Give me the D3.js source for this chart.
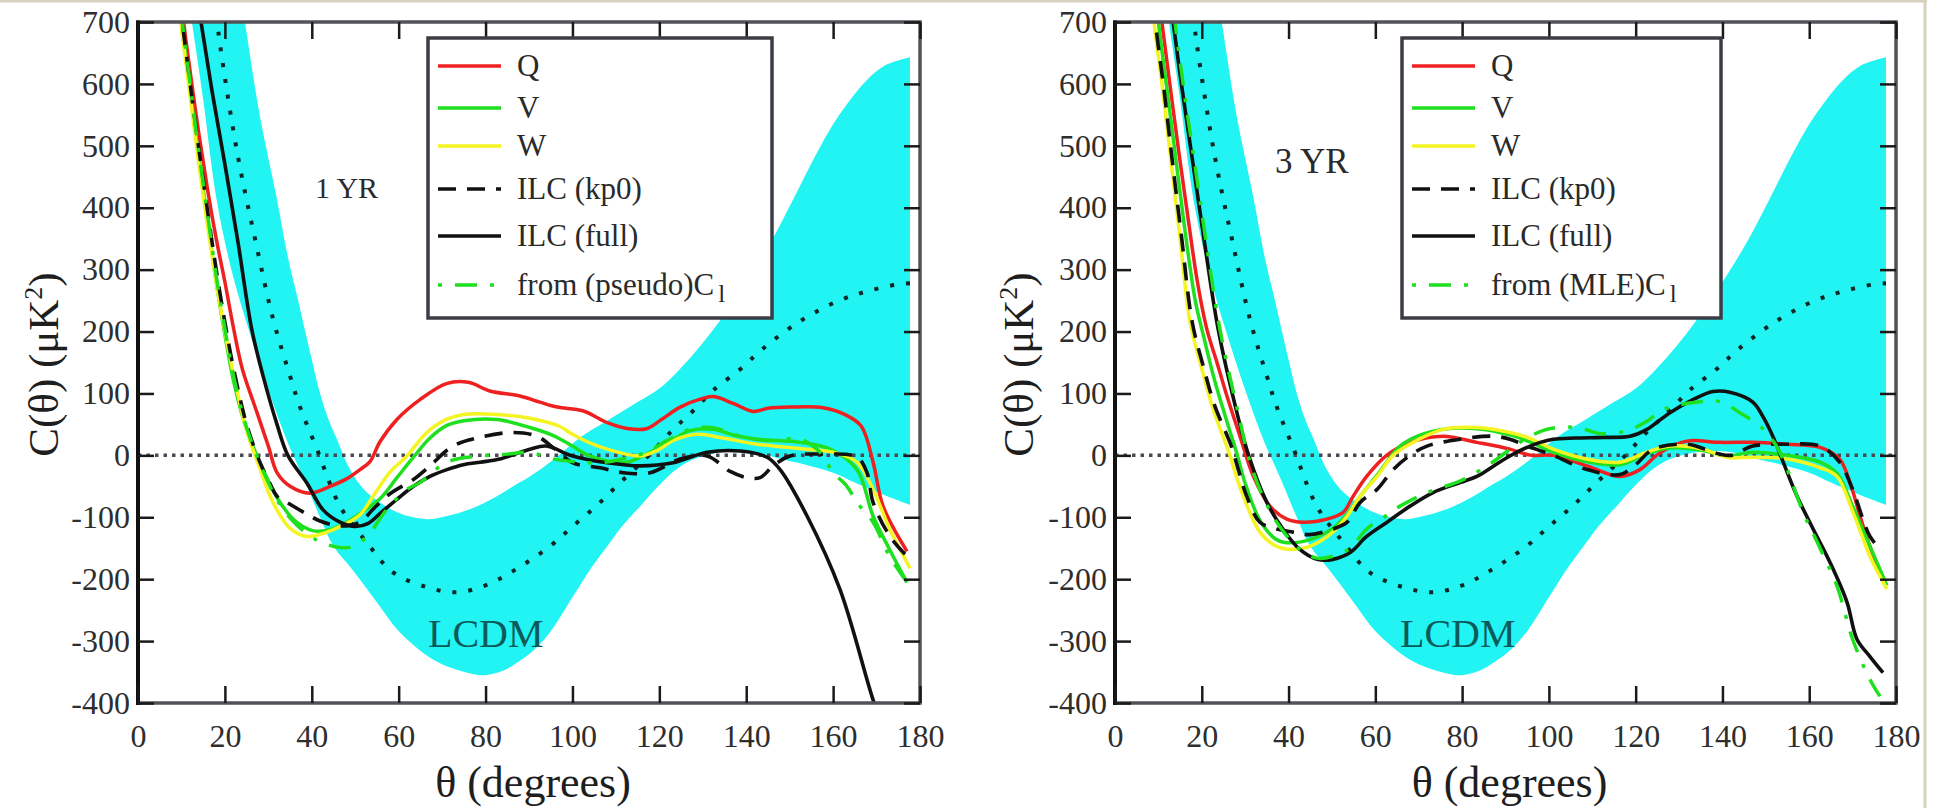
<!DOCTYPE html>
<html>
<head>
<meta charset="utf-8">
<script src="https://cdn.jsdelivr.net/npm/d3@7"></script>
<style>
  body { margin: 0; background: #fff; }
  svg { display: block; }
  svg text { font-family: "Liberation Serif", "Times New Roman", serif !important; }
</style>
</head>
<body>
<svg id="chart" width="1938" height="808"></svg>
<script>
// Axis ticks
const thetaTicks = [0, 20, 40, 60, 80, 100, 120, 140, 160, 180];
const cTicks = [-400, -300, -200, -100, 0, 100, 200, 300, 400, 500, 600, 700];

// LCDM expectation: mean curve and 1-sigma band edges, [theta (deg), C (muK^2)]
const lcdmMean = [[10,1250],[14,960],[18.2,700],[19.6,629],[23,483],[27.3,338],[31.1,220],[35,128],[37.3,78],[41.2,10],[46.5,-82],[52.7,-141],[58.7,-189],[66.5,-213],[73.4,-221],[80,-210],[86.3,-187],[94.8,-147],[100,-115],[105.6,-81],[111,-44],[117.6,0],[123.2,42],[127.8,72],[132.4,105],[138.6,139],[143.6,171],[152,215],[161,249],[167.8,265],[174.7,276],[177.7,278]];
const lcdmLower = [[5,1150],[9,860],[12.4,700],[15,575],[18.1,413],[21.5,300],[25.5,203],[30.5,96],[34.5,20],[38,-35],[41.9,-100],[45,-147],[49.5,-186],[55.7,-244],[59.6,-281],[64,-310],[68,-330],[72,-343],[77,-353],[80,-355],[84,-348],[87.2,-335],[91,-315],[94.8,-286],[100.1,-228],[104,-185],[108,-147],[111,-118],[115.6,-82],[120,-48],[124,-22],[128,-6],[133,4],[138,7],[143,4],[148,-6],[153,-14],[160,-28],[165,-44],[170,-59],[174,-70],[177.7,-80]];
const lcdmUpper = [[5,1700],[15,1150],[20,900],[24.6,700],[28,550],[32,413],[34.5,320],[36.8,252],[38.4,203],[40,155],[41.9,100],[44,55],[45.8,26],[48.8,-23],[52,-55],[55.7,-76],[59.6,-92],[63.3,-100],[67.2,-103],[71.1,-98],[76.4,-87],[82.6,-66],[87,-47],[90.2,-34],[96,-5],[102,30],[108,56],[115,86],[120,108],[124.8,140],[132.4,203],[140,280],[146,349],[152,430],[156,485],[160,535],[164,575],[168,608],[172,630],[177.7,643]];

// 1-year maps
const q1yr = [[8,860],[10.5,700],[12,620],[14,520],[16,430],[18,350],[20,280],[22,205],[24,140],[27.4,69],[30,15],[32,-28],[35,-50],[39.6,-61],[44.2,-50],[48,-38],[51.1,-23],[53.4,-10],[55.7,22],[59.6,58],[64.9,90],[71,116],[76,118],[81,104],[87.9,96],[92.5,86],[96.5,78],[102.4,72],[108,53],[113,43],[117,43],[120.5,58],[124.8,78],[130,92],[132.5,95],[137,84],[141.6,71],[145,76],[150,78],[157.7,77],[163,65],[166.5,47],[169.2,-11],[171.5,-82],[177,-155]];
const v1yr = [[8,820],[10,700],[12,590],[14,480],[16,380],[18,280],[20,195],[22,120],[25,42],[28.8,-23],[32.7,-76],[36.5,-108],[40.4,-122],[44.2,-120],[48,-108],[51.5,-92],[55.7,-70],[59.6,-36],[63.4,-3],[67.2,28],[71,48],[75,56],[82.6,58],[90.2,45],[95.6,32],[100,15],[104,-1],[111.7,-12],[117.9,5],[123,25],[127,40],[132.4,42],[137,33],[142.5,26],[152.4,21],[159.3,10],[165.5,-23],[169.2,-98],[173,-152],[177,-205]];
const w1yr = [[8,800],[10,690],[12,580],[14,470],[16,370],[18,280],[20,200],[22,130],[25,40],[28,-20],[31,-75],[35,-118],[38.9,-131],[42.6,-126],[46.5,-115],[51.1,-96],[54.1,-66],[58,-27],[61.9,-1],[66.5,37],[71,58],[75,66],[82.6,66],[90.2,60],[97,47],[100,34],[104,20],[108,10],[115.6,-1],[119.5,8],[123.2,24],[128.7,34],[134.7,28],[142.5,18],[154,10],[160,5],[165.5,-11],[169.2,-55],[173.1,-120],[177.7,-182]];
const kp01yr = [[8,830],[10,710],[12,600],[14,495],[16,395],[18,300],[20,215],[22,140],[25,50],[28,-10],[30,-40],[32,-66],[34.3,-76],[38.9,-95],[41.9,-106],[46.5,-114],[51.1,-108],[54.1,-87],[58,-62],[63.4,-39],[67.2,-17],[72.5,15],[78.7,29],[86.3,37],[91.8,31],[96,10],[100.1,-12],[106.4,-20],[111.7,-28],[117.9,-28],[124.8,-6],[131,-1],[136.3,-26],[140.2,-36],[143.2,-36],[146.2,-17],[150.1,-1],[157.7,2],[165.5,-3],[167.8,-28],[169.2,-76],[173.1,-131],[177,-163]];
const full1yr = [[12,800],[14.5,700],[17,590],[20,470],[23,345],[26.2,203],[28.8,128],[32,50],[34.5,0],[38.9,-45],[42.6,-88],[46.5,-108],[50,-115],[53,-110],[56,-92],[59.6,-71],[63.4,-50],[67.2,-34],[71.1,-23],[74.9,-15],[78.8,-11],[83.3,-6],[90.2,10],[94,15],[100,-1],[108,-12],[115.6,-17],[123.2,-12],[131,5],[138.6,7],[144.8,-3],[147.8,-23],[154,-98],[161.6,-217],[169.2,-395],[172,-450]];
const cl1yr = [[8,830],[10,710],[12,600],[14,490],[16,390],[18,290],[20,205],[22,128],[25,45],[28.8,-25],[32.7,-80],[36.5,-112],[40,-132],[42,-140],[46.5,-149],[49.5,-147],[52.7,-131],[57.3,-87],[61.9,-55],[64.9,-44],[71.1,-11],[78.7,-1],[85,2],[90,5],[95,-5],[100,-10],[106,-12],[112,-5],[117,5],[122,25],[127,42],[132,45],[138.6,31],[145,24],[152.4,26],[157,5],[160,-27],[163.2,-50],[165.5,-76],[169.2,-108],[173,-163],[177,-205]];

// 3-year maps
const q3yr = [[8,850],[10.8,700],[13,580],[15,475],[17,375],[19,280],[21.2,203],[23.5,150],[25.8,96],[28.8,31],[31.9,-34],[35.7,-82],[39.6,-103],[43.4,-108],[48.8,-103],[52.6,-92],[54.9,-66],[58,-34],[62.6,0],[68,21],[75.6,31],[83.4,21],[91,10],[96,0],[101,0],[108.8,-17],[116.4,-34],[121,-23],[125.6,4],[131.8,23],[139.4,21],[147,21],[154.9,18],[162.5,13],[167,-6],[169.4,-44],[171.7,-98],[174,-147],[177,-200]];
const v3yr = [[8,840],[10,700],[12,590],[14,480],[16,370],[18.5,250],[20.5,190],[23,120],[26,50],[28,5],[30,-45],[33.4,-105],[37,-135],[39.6,-141],[44.9,-136],[50.2,-118],[53.5,-95],[56.5,-66],[60.4,-32],[65.7,15],[70,32],[75.6,42],[83.4,43],[91,33],[95.5,22],[101,5],[108.8,-10],[116.4,-15],[122.6,3],[127.9,12],[135.5,8],[141,-1],[147,5],[154.9,0],[162.5,-11],[166.5,-30],[170,-82],[174,-147],[177.9,-210]];
const w3yr = [[7,850],[9,700],[11,590],[13,470],[15,350],[17.3,215],[20,140],[22.6,75],[26.5,0],[28,-35],[29.8,-70],[33.4,-124],[37.3,-147],[41,-152],[44.9,-147],[50.2,-124],[53.5,-98],[56.5,-66],[60.4,-34],[64.1,0],[68.7,21],[75.6,42],[83.4,45],[91,37],[95.5,28],[101,10],[108.8,-6],[116.4,-11],[122.6,5],[127.9,15],[135.5,10],[141,-3],[147,-3],[154.9,-6],[162.5,-20],[166.4,-34],[170.1,-92],[174,-163],[177.9,-216]];
const kp03yr = [[7,870],[9.3,700],[11.3,590],[13.3,470],[15.3,355],[17.8,215],[20.5,140],[23,80],[26.8,15],[28.5,-25],[30.3,-65],[33.4,-108],[37.3,-119],[41,-124],[44.9,-128],[50.2,-119],[53.5,-108],[56.5,-76],[60.4,-55],[64.1,-23],[68,0],[71.9,15],[79.5,26],[87.1,31],[91,26],[95,15],[101,0],[108.8,-23],[116.4,-31],[120,-15],[124,10],[131.8,18],[136,10],[139.4,2],[142,0],[147,15],[154.9,18],[162.5,15],[167,-11],[170,-55],[174,-131],[176.5,-152]];
const full3yr = [[10,900],[13.4,700],[15.5,590],[18,470],[20.5,350],[23.8,203],[28.1,69],[30.8,0],[35,-76],[38.7,-119],[42.6,-152],[46.6,-168],[50.2,-168],[54.2,-157],[58,-131],[62.7,-108],[68,-82],[73.3,-60],[79.5,-44],[83.4,-34],[87.1,-18],[91,-1],[95,13],[98,21],[101,26],[106,28],[112.5,29],[118.7,31],[122.6,42],[127.9,69],[133.2,90],[137.8,103],[141.7,102],[147,86],[149.3,63],[151.6,31],[154,-11],[157.2,-66],[160.9,-119],[164.8,-173],[168.7,-237],[171,-297],[174,-325],[177,-351]];
const cl3yr = [[10,910],[13.8,700],[16,585],[18.5,465],[21,345],[24.2,203],[28.5,65],[31.3,-15],[35,-80],[38.7,-122],[42.6,-152],[46.6,-166],[50.2,-163],[54.2,-150],[58,-119],[62,-100],[65.7,-82],[72,-60],[80,-40],[87,-11],[93.3,21],[99.5,42],[106.5,45],[112,35],[118,40],[122.6,55],[126.3,74],[133,85],[139.4,87],[144,69],[148.7,47],[152,20],[154.5,-15],[158.6,-92],[162.5,-150],[166.4,-211],[170,-297],[174,-362],[176.3,-389]];

// Legend labels (the last one carries a subscript "l")
const legendLabels = ["Q", "V", "W", "ILC (kp0)", "ILC (full)"];

// Line styles for each series, in drawing order
const seriesStyles = [
  { key: "q",    color: "#ee2020", width: 3.5, dash: null },
  { key: "v",    color: "#1fe01f", width: 3.5, dash: null },
  { key: "w",    color: "#f4f422", width: 3.5, dash: null },
  { key: "kp0",  color: "#111111", width: 3.6, dash: "18,11" },
  { key: "full", color: "#111111", width: 3.6, dash: null },
  { key: "cl",   color: "#1fe01f", width: 3.5, dash: "4,13,22,13" }
];

const panels = [
  { x0: 138, x1: 920, yrLabel: "1 YR", yrPos: [315, 198], yrSize: 30,
    lastLabel: "from (pseudo)C", legend: [428, 38, 772, 318], lcdmPos: [428, 647], yTitleX: 58,
    series: { q: q1yr, v: v1yr, w: w1yr, kp0: kp01yr, full: full1yr, cl: cl1yr } },
  { x0: 1115, x1: 1896, yrLabel: "3 YR", yrPos: [1275, 173], yrSize: 35,
    lastLabel: "from (MLE)C", legend: [1402, 38, 1721, 318], lcdmPos: [1400, 647], yTitleX: 1033,
    series: { q: q3yr, v: v3yr, w: w3yr, kp0: kp03yr, full: full3yr, cl: cl3yr } }
];
const legendRowY = [66, 108, 146, 189, 236, 285];

const FONT = "'Liberation Serif', 'Times New Roman', serif";
const svg = d3.select("#chart");
svg.append("rect").attr("width", 1938).attr("height", 808).attr("fill", "#fff");
// thin frame of the image
svg.append("line").attr("x1", 0).attr("x2", 1927).attr("y1", 1.2).attr("y2", 1.2)
  .attr("stroke", "#d6d2bd").attr("stroke-width", 2.5);
svg.append("line").attr("x1", 1925).attr("x2", 1925).attr("y1", 0).attr("y2", 808)
  .attr("stroke", "#d6d2bd").attr("stroke-width", 3);

const defs = svg.append("defs");
const yTop = 22, yBot = 703;

panels.forEach((p, i) => {
  const x = d3.scaleLinear().domain([0, 180]).range([p.x0, p.x1]);
  const y = d3.scaleLinear().domain([-400, 700]).range([yBot, yTop]);
  const line = d3.line().x(d => x(d[0])).y(d => y(d[1])).curve(d3.curveCatmullRom.alpha(0.5));

  const clipId = "plot-clip-" + i;
  defs.append("clipPath").attr("id", clipId).append("rect")
    .attr("x", p.x0).attr("y", yTop).attr("width", p.x1 - p.x0).attr("height", yBot - yTop);

  const g = svg.append("g").style("font-family", FONT);
  const plot = g.append("g").attr("clip-path", `url(#${clipId})`);

  // LCDM 1-sigma band
  const upperPath = line(lcdmUpper);
  const lowerPath = line(lcdmLower.slice().reverse());
  plot.append("path")
    .attr("d", upperPath + "L" + lowerPath.slice(1) + "Z")
    .attr("fill", "#22f3f3");

  // zero reference
  plot.append("line")
    .attr("x1", x(0)).attr("x2", x(180)).attr("y1", y(0)).attr("y2", y(0))
    .attr("stroke", "#4a4a55").attr("stroke-width", 3.5).attr("stroke-dasharray", "3.5,5");

  // LCDM mean
  plot.append("path").attr("d", line(lcdmMean))
    .attr("fill", "none").attr("stroke", "#0d2626").attr("stroke-width", 4)
    .attr("stroke-dasharray", "4,12");

  // measured correlation functions
  seriesStyles.forEach(s => {
    plot.append("path").attr("d", line(p.series[s.key]))
      .attr("fill", "none").attr("stroke", s.color).attr("stroke-width", s.width)
      .attr("stroke-linejoin", "round")
      .attr("stroke-dasharray", s.dash);
  });

  // frame
  g.append("rect").attr("x", p.x0).attr("y", yTop).attr("width", p.x1 - p.x0).attr("height", yBot - yTop)
    .attr("fill", "none").attr("stroke", "#525258").attr("stroke-width", 3.5);
  g.append("line").attr("x1", p.x0).attr("x2", p.x0).attr("y1", yTop - 1.5).attr("y2", yBot + 2)
    .attr("stroke", "#111").attr("stroke-width", 4);

  const styleAxis = sel => {
    sel.attr("font-family", FONT);
    sel.select(".domain").remove();
    sel.selectAll(".tick line").attr("stroke", "#1a1a1a").attr("stroke-width", 2.5);
    sel.selectAll(".tick text").attr("font-size", 32).attr("fill", "#2e2e2e")
      .style("font-family", FONT);
  };
  g.append("g").attr("transform", `translate(${p.x0},0)`)
    .call(d3.axisLeft(y).tickValues(cTicks).tickSizeInner(-16).tickSizeOuter(0).tickPadding(8).tickFormat(d => String(d)))
    .call(styleAxis);
  g.append("g").attr("transform", `translate(${p.x1},0)`)
    .call(d3.axisRight(y).tickValues(cTicks).tickSizeInner(-16).tickSizeOuter(0).tickFormat(""))
    .call(styleAxis);
  g.append("g").attr("transform", `translate(0,${yBot})`)
    .call(d3.axisBottom(x).tickValues(thetaTicks).tickSizeInner(-17).tickSizeOuter(0).tickPadding(21).tickFormat(d => String(d)))
    .call(styleAxis);
  g.append("g").attr("transform", `translate(0,${yTop})`)
    .call(d3.axisTop(x).tickValues(thetaTicks).tickSizeInner(-17).tickSizeOuter(0).tickFormat(""))
    .call(styleAxis);

  // axis titles
  g.append("text").attr("x", (p.x0 + p.x1) / 2 + 4).attr("y", 797)
    .attr("text-anchor", "middle").attr("font-size", 44).attr("fill", "#1e1e1e")
    .style("font-family", FONT)
    .text("θ (degrees)");
  const yt = g.append("text")
    .attr("transform", `translate(${p.yTitleX},${(yTop + yBot) / 2 + 2}) rotate(-90)`)
    .attr("text-anchor", "middle").attr("font-size", 43).attr("fill", "#1e1e1e")
    .style("font-family", FONT);
  yt.append("tspan").text("C(θ) (μK");
  yt.append("tspan").attr("font-size", 26).attr("dy", -16).text("2");
  yt.append("tspan").attr("dy", 16).text(")");

  // panel annotations
  g.append("text").attr("x", p.yrPos[0]).attr("y", p.yrPos[1])
    .attr("font-size", p.yrSize).attr("fill", "#2a2a2a").style("font-family", FONT).text(p.yrLabel);
  g.append("text").attr("x", p.lcdmPos[0]).attr("y", p.lcdmPos[1])
    .attr("font-size", 40).attr("fill", "#0c5a5a").style("font-family", FONT).text("LCDM");

  // legend
  const [lx0, ly0, lx1, ly1] = p.legend;
  const lg = g.append("g");
  lg.append("rect").attr("x", lx0).attr("y", ly0).attr("width", lx1 - lx0).attr("height", ly1 - ly0)
    .attr("fill", "#fff").attr("stroke", "#3c3c44").attr("stroke-width", 3.5);
  seriesStyles.forEach((s, k) => {
    const ry = ly0 + (legendRowY[k] - 38);
    lg.append("line").attr("x1", lx0 + 10).attr("x2", lx0 + 73).attr("y1", ry).attr("y2", ry)
      .attr("stroke", s.color).attr("stroke-width", s.width).attr("stroke-dasharray", s.dash);
    const t = lg.append("text").attr("x", lx0 + 89).attr("y", ry + 10)
      .attr("font-size", 31).attr("fill", "#2a2a2a").style("font-family", FONT);
    if (k < legendLabels.length) {
      t.text(legendLabels[k]);
    } else {
      t.append("tspan").text(p.lastLabel);
      t.append("tspan").attr("font-size", 25).attr("dx", 4).attr("dy", 7).text("l");
    }
  });
});
</script>
</body>
</html>
